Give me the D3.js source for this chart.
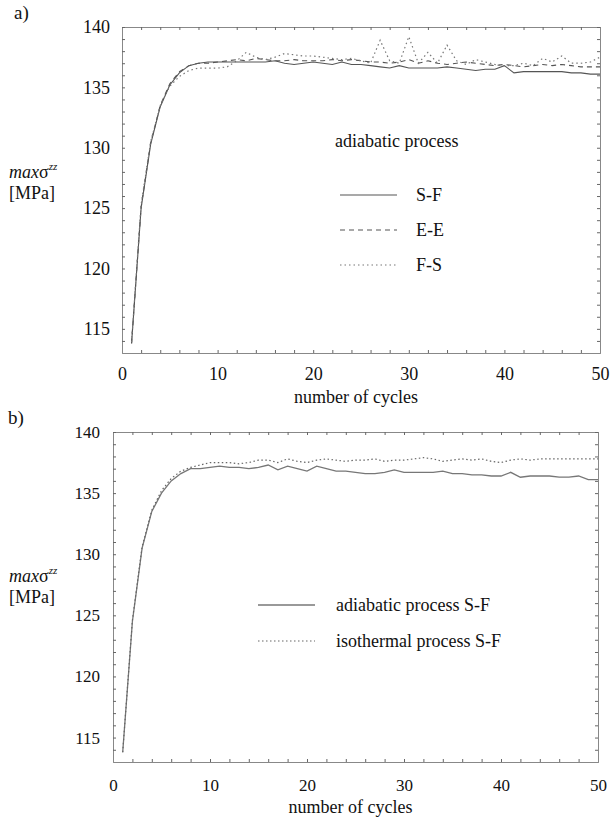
<!DOCTYPE html>
<html>
<head>
<meta charset="utf-8">
<script src="https://cdn.jsdelivr.net/npm/d3@7"></script>
<style>
  body { margin: 0; background: #fff; }
  svg text { font-family: "Liberation Serif", "Times New Roman", Times, "DejaVu Serif", serif; }
</style>
</head>
<body>
<svg id="chart" width="612" height="820"></svg>
<script>
// number of cycles, 1..50
var cycles = [1,2,3,4,5,6,7,8,9,10,11,12,13,14,15,16,17,18,19,20,
              21,22,23,24,25,26,27,28,29,30,31,32,33,34,35,36,37,38,39,40,
              41,42,43,44,45,46,47,48,49,50];

var xTicks = [0, 10, 20, 30, 40, 50];
var yTicks = [115, 120, 125, 130, 135, 140];

// panel a) adiabatic process, three variants
var adiabaticSF = [113.8,125.0,130.3,133.4,135.2,136.2,136.8,137.0,137.1,137.1,
                   137.1,137.1,137.1,137.1,137.1,137.2,137.0,136.9,137.0,137.1,
                   137.0,136.9,137.1,136.9,136.9,136.8,136.7,136.6,136.8,136.6,
                   136.6,136.6,136.6,136.7,136.6,136.5,136.4,136.5,136.5,136.8,
                   136.2,136.3,136.3,136.3,136.3,136.3,136.2,136.2,136.1,136.1];
var adiabaticEE = [113.8,125.1,130.4,133.5,135.3,136.3,136.8,137.0,137.0,137.1,
                   137.2,137.3,137.2,137.4,137.3,137.2,137.2,137.3,137.2,137.2,
                   137.2,137.3,137.2,137.3,137.2,137.1,137.1,137.0,137.1,137.3,
                   137.0,137.2,137.0,136.9,137.0,137.1,137.0,136.9,136.8,136.9,
                   136.8,136.7,136.8,136.9,136.8,136.9,136.8,136.7,136.7,136.7];
var adiabaticFS = [113.9,125.3,130.5,133.5,135.1,135.9,136.4,136.6,136.6,136.6,
                   136.7,137.2,137.9,137.5,137.3,137.5,137.8,137.7,137.6,137.6,
                   137.5,137.4,137.3,137.4,137.2,137.0,138.9,137.2,137.0,139.2,
                   137.0,137.9,137.0,138.5,137.2,136.9,137.3,137.1,136.9,136.8,
                   136.8,137.0,136.8,137.4,137.1,137.6,137.0,137.0,137.1,137.5];

// panel b) adiabatic vs isothermal, S-F
var adiabaticB = [113.8,124.5,130.5,133.5,135.0,136.0,136.6,137.0,137.0,137.1,
                  137.2,137.1,137.1,137.0,137.1,137.3,136.9,137.2,137.0,136.8,
                  137.2,137.0,136.8,136.8,136.7,136.6,136.6,136.7,136.9,136.7,
                  136.7,136.7,136.7,136.8,136.6,136.6,136.5,136.5,136.4,136.4,
                  136.7,136.3,136.4,136.4,136.4,136.3,136.3,136.4,136.1,136.1];
var isothermalB = [113.8,124.6,130.6,133.6,135.2,136.2,136.8,137.1,137.3,137.5,
                   137.5,137.5,137.4,137.5,137.7,137.7,137.5,137.8,137.6,137.5,
                   137.7,137.8,137.7,137.6,137.7,137.7,137.8,137.6,137.7,137.7,
                   137.8,137.9,137.8,137.6,137.7,137.8,137.7,137.8,137.6,137.5,
                   137.7,137.8,137.7,137.8,137.8,137.8,137.8,137.8,137.8,137.8];

var FONT = '"Liberation Serif", "Times New Roman", Times, serif';
var svg = d3.select("#chart");

function drawPanel(p) {
    var x = d3.scaleLinear().domain([0, 50]).range([p.left, p.right]);
    var y = d3.scaleLinear().domain([113, 140]).range([p.bottom, p.top]);
    var g = svg.append("g");

    // frame with small inward ticks on every side
    g.append("g").attr("transform", "translate(0," + p.bottom + ")")
        .call(d3.axisBottom(x).tickValues(d3.range(0, 51, 2)).tickSize(-3).tickFormat(""));
    g.append("g").attr("transform", "translate(0," + p.top + ")")
        .call(d3.axisTop(x).tickValues(d3.range(0, 51, 2)).tickSize(-3).tickFormat(""));
    g.append("g").attr("transform", "translate(" + p.left + ",0)")
        .call(d3.axisLeft(y).tickValues(d3.range(114, 141, 1)).tickSize(-3).tickFormat(""));
    g.append("g").attr("transform", "translate(" + p.right + ",0)")
        .call(d3.axisRight(y).tickValues(d3.range(114, 141, 1)).tickSize(-3).tickFormat(""));
    g.selectAll(".domain").attr("stroke", "#888").attr("stroke-width", 1);
    g.selectAll(".tick line").attr("stroke", "#666");

    // tick labels
    var xl = g.append("g").attr("transform", "translate(0," + p.bottom + ")")
        .call(d3.axisBottom(x).tickValues(xTicks).tickSize(0).tickPadding(p.xPad));
    var yl = g.append("g").attr("transform", "translate(" + p.left + ",0)")
        .call(d3.axisLeft(y).tickValues(yTicks).tickSize(0).tickPadding(p.yPad));
    xl.select(".domain").remove();
    yl.select(".domain").remove();
    xl.attr("font-family", FONT).attr("font-size", p.fs);
    yl.attr("font-family", FONT).attr("font-size", p.fs);
    g.selectAll("text").attr("fill", "#111");

    g.append("text").attr("x", (p.left + p.right) / 2 - 5).attr("y", p.bottom + p.titleDy)
        .attr("text-anchor", "middle").attr("font-family", FONT).attr("font-size", 18).attr("fill", "#111")
        .text("number of cycles");

    g.append("text").attr("x", p.tagX).attr("y", p.tagY).attr("font-family", FONT)
        .attr("font-size", 19).attr("fill", "#111").text(p.tag);

    var yt = g.append("text").attr("x", 9).attr("y", p.labelY).attr("font-family", FONT)
        .attr("font-size", 18).attr("fill", "#111");
    yt.append("tspan").attr("font-style", "italic").text("max");
    yt.append("tspan").text("σ");
    yt.append("tspan").attr("font-style", "italic").attr("dy", -8).attr("font-size", 11).text("zz");
    g.append("text").attr("x", 9).attr("y", p.labelY + 21).attr("font-family", FONT)
        .attr("font-size", 18).attr("fill", "#111").text("[MPa]");

    var line = d3.line().x(function (d) { return x(d[0]); }).y(function (d) { return y(d[1]); });

    p.series.forEach(function (s) {
        g.append("path")
            .datum(cycles.map(function (c, i) { return [c, s.values[i]]; }))
            .attr("fill", "none").attr("stroke", s.color).attr("stroke-width", s.width)
            .attr("stroke-dasharray", s.dash).attr("d", line);
    });

    // legend
    if (p.legendTitle) {
        g.append("text").attr("x", p.legX).attr("y", p.legTitleY).attr("font-family", FONT)
            .attr("font-size", 18).attr("fill", "#111").text(p.legendTitle);
    }
    p.series.forEach(function (s, i) {
        var ly = p.legY + i * p.legStep;
        g.append("line").attr("x1", p.legLineX).attr("x2", p.legLineX + p.legLineW)
            .attr("y1", ly).attr("y2", ly)
            .attr("stroke", s.color).attr("stroke-width", s.width).attr("stroke-dasharray", s.dash);
        g.append("text").attr("x", p.legTextX).attr("y", ly + 6).attr("font-family", FONT)
            .attr("font-size", 18).attr("fill", "#111").text(s.name);
    });
}

drawPanel({
    tag: "a)", tagX: 14, tagY: 19, left: 122, right: 600, top: 27, bottom: 353, fs: 18, xPad: 14, yPad: 12,
    titleDy: 50, labelY: 178,
    legendTitle: "adiabatic process", legX: 335, legTitleY: 147,
    legLineX: 340, legLineW: 57, legTextX: 416, legY: 195, legStep: 35,
    series: [
        {name: "S-F", values: adiabaticSF, color: "#555", width: 1.1, dash: null},
        {name: "E-E", values: adiabaticEE, color: "#555", width: 1.1, dash: "5,4"},
        {name: "F-S", values: adiabaticFS, color: "#777", width: 1.2, dash: "1.5,3"}
    ]
});

drawPanel({
    tag: "b)", tagX: 8, tagY: 424, left: 113, right: 598, top: 432, bottom: 762, fs: 17, xPad: 17, yPad: 13,
    titleDy: 51, labelY: 582,
    legendTitle: null,
    legLineX: 258, legLineW: 57, legTextX: 336, legY: 605, legStep: 36,
    series: [
        {name: "adiabatic process S-F", values: adiabaticB, color: "#777", width: 1.3, dash: null},
        {name: "isothermal process S-F", values: isothermalB, color: "#666", width: 1.2, dash: "1.5,2.5"}
    ]
});
</script>
</body>
</html>
